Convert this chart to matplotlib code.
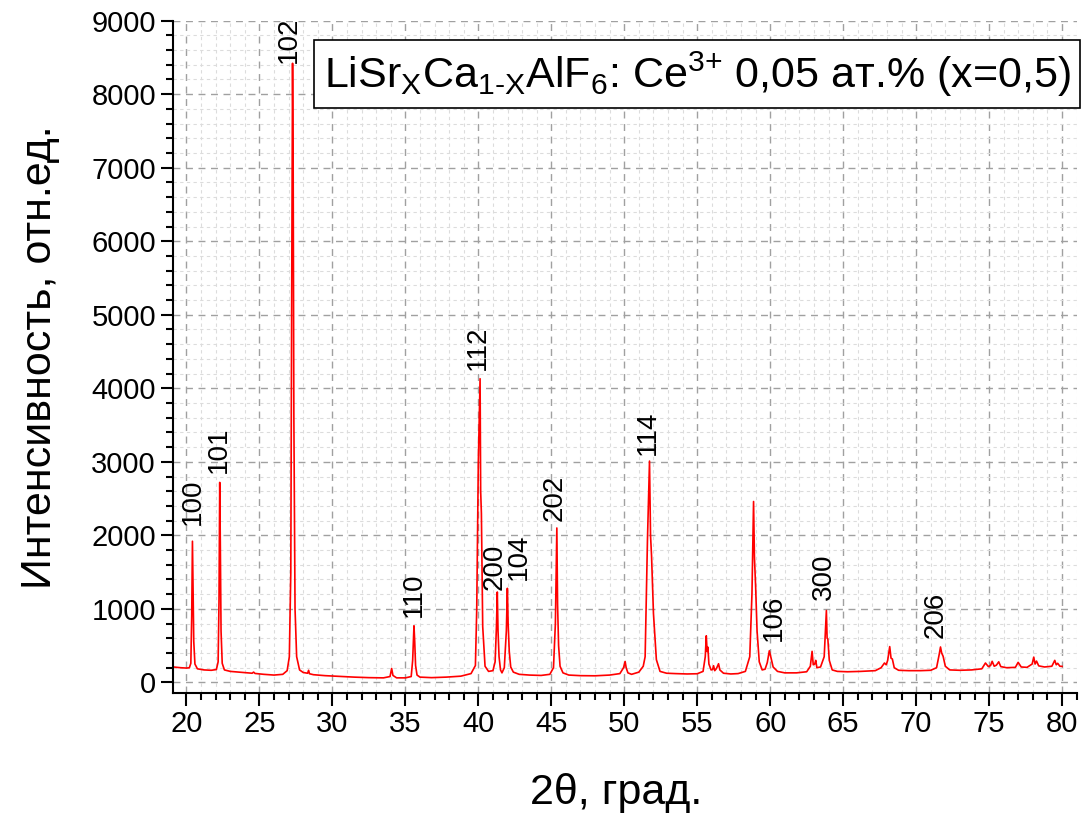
import numpy as np
import matplotlib
matplotlib.use('Agg')
import matplotlib.pyplot as plt
from matplotlib.ticker import MultipleLocator

plt.rcParams['font.family'] = ['Liberation Sans', 'DejaVu Sans']
plt.rcParams['mathtext.fontset'] = 'custom'
plt.rcParams['mathtext.rm'] = 'Liberation Sans'
plt.rcParams['mathtext.it'] = 'Liberation Sans:italic'

# XRD pattern, segment by segment
two_theta = [
    19.1, 19.6, 20.0, 20.2, 20.3, 20.36, 20.41, 20.45, 20.5, 20.58, 20.75, 21.2,
    21.7, 22.05, 22.17, 22.23, 22.28, 22.32, 22.37, 22.45, 22.6, 23.0,
    23.6, 24.2, 24.5, 24.6, 24.7, 25.3, 26.0, 26.6, 26.9, 27.05, 27.15, 27.21, 27.27,
    27.31, 27.36, 27.44, 27.55, 27.75, 28.0, 28.3, 28.37, 28.43, 28.7,
    29.5, 30.5, 31.5, 32.5, 33.5, 33.95, 34.06, 34.15, 34.4,
    35.0, 35.4, 35.5, 35.59, 35.64, 35.7, 35.8, 36.0, 36.8, 37.8, 38.8, 39.5,
    39.8, 39.89, 40.0, 40.12, 40.16, 40.21, 40.3, 40.46, 40.7, 41.0, 41.15, 41.24,
    41.3, 41.35, 41.42, 41.52, 41.62, 41.78, 41.92, 41.99, 42.04, 42.12, 42.22, 42.4, 42.8,
    43.5, 44.3, 44.9, 45.15, 45.28, 45.38, 45.43, 45.5, 45.6, 45.8, 46.2,
    47.0, 48.0, 49.0, 49.7, 49.95, 50.06, 50.13, 50.25, 50.5,
    51.0, 51.3, 51.43, 51.59, 51.73, 51.8, 51.87, 52.0, 52.2, 52.45, 52.9,
    53.5, 54.3, 55.0, 55.4, 55.55, 55.62, 55.68, 55.73, 55.8, 55.95, 56.05, 56.12,
    56.2, 56.32, 56.46, 56.55, 56.8, 57.3,
    57.8, 58.3, 58.6, 58.75, 58.86, 58.92, 59.0, 59.1, 59.25, 59.45, 59.65, 59.8,
    59.94, 60.05, 60.2, 60.5,
    61.0, 61.8, 62.5, 62.75, 62.87, 62.95, 63.05, 63.12, 63.2, 63.45, 63.7, 63.85,
    63.9, 63.95, 64.05, 64.25, 64.6,
    65.3, 66.2, 67.2, 67.6, 67.83, 67.95, 68.05, 68.19, 68.28, 68.37, 68.5, 68.8,
    69.5, 70.3, 71.0, 71.4, 71.58, 71.67, 71.75, 71.85, 72.0, 72.3,
    73.0, 73.8, 74.5, 74.75, 74.95, 75.1, 75.21, 75.35, 75.5, 75.66, 75.8, 76.2,
    76.8, 76.99, 77.2, 77.6, 77.95, 78.06, 78.15, 78.25, 78.4, 78.8, 79.3, 79.5,
    79.6, 79.7, 79.85, 80.0,
]
intensity = [
    210, 200, 195, 200, 260, 900, 1920, 1300, 560, 250, 185, 170,
    165, 175, 280, 1100, 2720, 1900, 700, 260, 170, 150,
    140, 130, 125, 140, 122, 110, 100, 110, 160, 350, 1500, 5200, 8420,
    7150, 3600, 1000, 350, 170, 135, 125, 165, 118, 105,
    92, 82, 72, 65, 62, 80, 190, 95, 62,
    62, 80, 300, 770, 560, 230, 100, 72, 65, 72, 85, 120,
    230, 990, 3000, 4130, 2600, 2300, 760, 220, 150, 160, 280, 750,
    1230, 700, 350, 170, 130, 200, 700, 1280, 810, 420, 210, 140, 110,
    100, 95, 110, 200, 800, 2100, 1060, 500, 220, 130, 100,
    92, 90, 100, 120, 200, 285, 200, 130, 110,
    140, 220, 350, 1940, 3010, 2000, 1720, 940, 310, 150, 125,
    120, 115, 118, 150, 350, 634, 420, 480, 250, 170, 175, 227,
    160, 190, 254, 170, 125, 115,
    120, 150, 350, 1200, 2460, 1700, 1313, 700, 280, 170, 180, 270,
    430, 340, 210, 150,
    130, 130, 145, 220, 423, 240, 250, 300, 200, 210, 350, 978,
    600, 592, 300, 170, 150,
    145, 150, 160, 200, 264, 240, 300, 487, 330, 319, 200, 165,
    160, 160, 165, 200, 380, 482, 400, 355, 220, 170,
    165, 170, 185, 264, 215, 230, 287, 220, 235, 280, 215, 200,
    205, 273, 210, 205, 250, 344, 250, 290, 225, 210, 220, 300,
    240, 260, 220, 218,
]

# hkl labels: text, x, y of the label bottom
hkl_labels = ['100', '101', '102', '110', '112', '200', '104', '202', '114', '106', '300', '206']
hkl_x = [20.43, 22.22, 27.04, 35.59, 40.0, 41.12, 42.80, 45.24, 51.65, 60.23, 63.69, 71.34]
hkl_y = [2140, 2855, 8420, 896, 4254, 1258, 1394, 2200, 3090, 557, 1122, 600]

fig = plt.figure(figsize=(10.86, 8.14), dpi=100)
ax = fig.add_axes([0.1596, 0.1490, 0.8318, 0.8256])

ax.plot(two_theta, intensity, color='red', lw=1.2)

for lab, x, y in zip(hkl_labels, hkl_x, hkl_y):
    ax.text(x, y, lab, rotation=90, ha='center', va='bottom', fontsize=20)

ax.set_xlim(19.1, 81.0)
ax.set_ylim(-140, 9000)
ax.xaxis.set_major_locator(MultipleLocator(5))
ax.xaxis.set_minor_locator(MultipleLocator(1))
ax.yaxis.set_major_locator(MultipleLocator(1000))
ax.yaxis.set_minor_locator(MultipleLocator(200))

ax.grid(which='major', color='#a0a0a0', ls=(0, (5, 4)), lw=1.0)
ax.grid(which='minor', color='#dcdcdc', ls=(0, (3, 3)), lw=0.8)
ax.set_axisbelow(True)

for s in ['top', 'right']:
    ax.spines[s].set_visible(False)
for s in ['left', 'bottom']:
    ax.spines[s].set_linewidth(1.5)

ax.tick_params(which='major', direction='out', length=9, width=1.5, labelsize=21)
ax.tick_params(which='minor', direction='out', length=5, width=1.5)

ax.set_xlabel('2θ, град.', fontsize=31)
ax.set_ylabel('Интенсивность, отн.ед.', fontsize=31)
ax.xaxis.set_label_coords(0.49, -0.12)
ax.yaxis.set_label_coords(-0.125, 0.5)

title = (r'LiSr$_\mathregular{X}$Ca$_\mathregular{1\text{-}X}$AlF$_\mathregular{6}$: '
         r'Ce$^\mathregular{3{+}}$ 0,05 ат.% (x=0,5)')
fig.text(0.642, 0.909, title, ha='center', va='center', fontsize=31,
         bbox=dict(boxstyle='square,pad=0.22', fc='white', ec='black', lw=1.2))

fig.savefig('out.png', dpi=100)
